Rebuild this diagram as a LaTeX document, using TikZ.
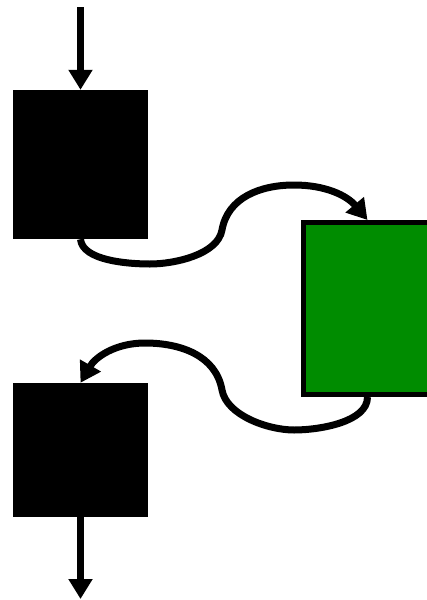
\documentclass[tikz,border=0pt]{standalone}
\usetikzlibrary{arrows.meta}
\definecolor{boxgreen}{RGB}{0,140,0}
\tikzset{
  blackbox/.style={rectangle, fill=black, inner sep=0pt},
  greenbox/.style={rectangle, fill=boxgreen, draw=black, line width=5pt, inner sep=0pt},
  conn/.style={line width=7pt, -{Triangle[width=23pt,length=20pt]}},
}
\begin{document}
\begin{tikzpicture}[x=1pt,y=-1pt]
\useasboundingbox (0,0) rectangle (426,600);
\node[blackbox, minimum width=135pt, minimum height=149pt] (A) at (80.5,164.5) {};
\node[blackbox, minimum width=135pt, minimum height=134pt] (B) at (80.5,450) {};
\node[greenbox, minimum width=129pt, minimum height=172pt] (G) at (367.5,308.5) {};
\coordinate (start) at (80.5,7);
\coordinate (end) at (80.5,599);
\draw[conn] (start) -- (A.north);
\draw[conn] (B.south) -- (end);
\draw[conn] (A.south) to[out=-85,in=180,looseness=0.75] (150,264) to[out=0,in=-100,looseness=0.8] (222,230)
  to[out=80,in=180] (294,185) to[out=0,in=130] (G.north);
\draw[conn] (G.south) to[out=-90,in=0,looseness=0.8] (294,430) to[out=180,in=-80,looseness=0.8] (222,390)
  to[out=100,in=0] (145,343) to[out=180,in=60] (B.north);
\end{tikzpicture}
\end{document}
